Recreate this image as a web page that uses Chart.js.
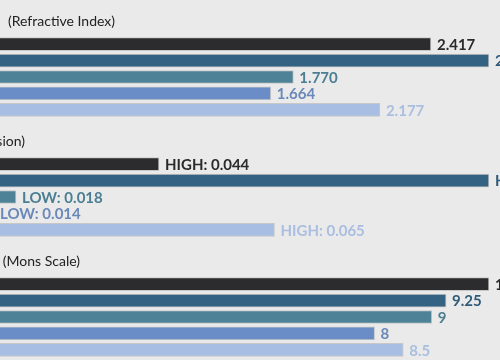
<!DOCTYPE html>
<html>
<head>
<meta charset="utf-8">
<script src="https://cdn.jsdelivr.net/npm/chart.js@4/dist/chart.umd.min.js"></script>
<style>
  html, body { margin:0; padding:0; background:#eaeaea; overflow:hidden; width:500px; height:360px; }
  .panel { position:absolute; left:-83px; width:583px; height:120px; }
</style>
</head>
<body>
<div class="panel" style="top:0px"><canvas id="c1" width="583" height="120"></canvas></div>
<div class="panel" style="top:120px"><canvas id="c2" width="583" height="120"></canvas></div>
<div class="panel" style="top:240px"><canvas id="c3" width="583" height="120"></canvas></div>
<script>
// ---- data ----
const categories = ["Diamond", "Moissanite", "Sapphire", "White Topaz", "Cubic Zirconia"];
const refractiveIndex = [2.417, 2.69, 1.770, 1.664, 2.177];
const dispersion = [0.044, 0.104, 0.018, 0.014, 0.065];
const dispersionLevel = ["HIGH", "HIGH", "LOW", "LOW", "HIGH"];
const hardness = [10, 9.25, 9, 8, 8.5];
const panelTitles = ["(Refractive Index)", "(Dispersion)", "(Mons Scale)"];

const barColors = ["#2c2c2f", "#346282", "#4e8297", "#6b8dc7", "#a8bee3"];
const labelColors = ["#2a2a2a", "#2f5b7a", "#4b7e92", "#6a88b8", "#a9bee0"];

const valueLabels = {
  id: 'valueLabels',
  afterDatasetsDraw(chart, args, opts) {
    const ctx = chart.ctx;
    const meta = chart.getDatasetMeta(0);
    ctx.save();
    ctx.font = "bold 15px Lato, 'Noto Sans', sans-serif";
    ctx.textBaseline = 'middle';
    ctx.textAlign = 'left';
    meta.data.forEach((bar, i) => {
      ctx.fillStyle = labelColors[i];
      ctx.fillText(opts.texts[i], bar.x + 6, bar.y + 1);
    });
    ctx.restore();
  }
};
const panelTitle = {
  id: 'panelTitle',
  afterDraw(chart, args, opts) {
    const ctx = chart.ctx;
    ctx.save();
    ctx.font = "14px Lato, 'Noto Sans', sans-serif";
    ctx.fillStyle = '#222';
    ctx.textBaseline = 'middle';
    ctx.textAlign = 'right';
    ctx.fillText(opts.text, opts.right, 21);
    ctx.restore();
  }
};

function makePanel(id, values, texts, title, titleRight) {
  new Chart(document.getElementById(id), {
    type: 'bar',
    data: {
      labels: categories,
      datasets: [{
        data: values,
        backgroundColor: barColors,
        borderColor: 'rgba(0,0,0,0.15)',
        borderWidth: 1,
        borderSkipped: false,
        barThickness: 13
      }]
    },
    options: {
      indexAxis: 'y',
      responsive: false,
      animation: false,
      devicePixelRatio: 1,
      layout: { padding: { top: 36, bottom: 2, left: 0, right: 11 } },
      scales: {
        x: { display: false, min: 0, max: Math.max(...values) },
        y: { display: false }
      },
      plugins: {
        legend: { display: false },
        tooltip: { enabled: false },
        valueLabels: { texts: texts },
        panelTitle: { text: title, right: titleRight + 83 }
      }
    },
    plugins: [valueLabels, panelTitle]
  });
}

makePanel('c1', refractiveIndex, refractiveIndex.map(v => v.toFixed(3)), panelTitles[0], 115);
makePanel('c2', dispersion, dispersion.map((v, i) => dispersionLevel[i] + ": " + v.toFixed(3)), panelTitles[1], 25);
makePanel('c3', hardness, hardness.map(v => String(v)), panelTitles[2], 80);
</script>
</body>
</html>
